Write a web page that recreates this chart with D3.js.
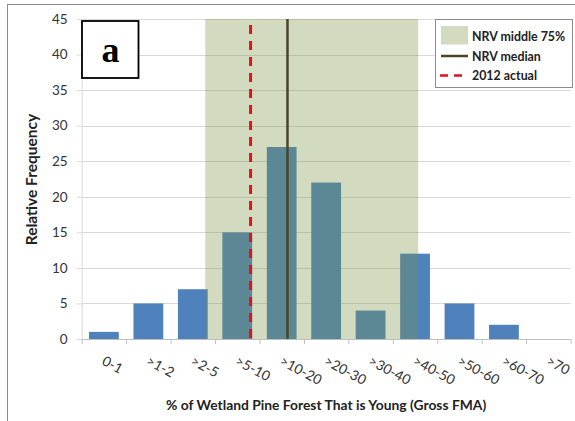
<!DOCTYPE html>
<html>
<head>
<meta charset="utf-8">
<script src="https://cdn.jsdelivr.net/npm/d3@7"></script>
<style>
  html, body { margin: 0; padding: 0; background: #fff; }
  svg { display: block; font-family: Lato, "Open Sans", "Liberation Sans", sans-serif; }
</style>
</head>
<body>
<svg id="chart" width="575" height="421"></svg>
<script>
// ---- data ----
const categories = ["0-1", ">1-2", ">2-5", ">5-10", ">10-20", ">20-30", ">30-40", ">40-50", ">50-60", ">60-70", ">70"];
const frequencies = [1, 5, 7, 15, 27, 22, 4, 12, 5, 2, 0];
// reference positions expressed in category-index units along the x axis
const nrvMiddle75 = [2.78, 7.57];
const nrvMedian = 4.63;
const actual2012 = 3.80;
const yTicks = [0, 5, 10, 15, 20, 25, 30, 35, 40, 45];
const legendLabels = ["NRV middle 75%", "NRV median", "2012 actual"];
const panelLabel = "a";
const xTitle = "% of Wetland Pine Forest That is Young (Gross FMA)";
const yTitle = "Relative Frequency";

// ---- layout ----
const svg = d3.select("#chart");
const plot = { left: 81.7, right: 570.6, top: 19, bottom: 339 };

const x = d3.scaleBand().domain(categories).range([plot.left, plot.right]).paddingInner(0.33).paddingOuter(0.165);
const xPos = d3.scaleLinear().domain([0, categories.length]).range([plot.left, plot.right]);
const y = d3.scaleLinear().domain([0, 45]).range([plot.bottom, plot.top]);

// outer frame (only top/left visible)
svg.append("rect").attr("x", 7.5).attr("y", 4.5).attr("width", 700).attr("height", 600)
  .attr("fill", "none").attr("stroke", "#8c8c8c").attr("stroke-width", 1);

// gridlines
svg.append("g").selectAll("line").data(yTicks.filter(d => d > 0)).join("line")
  .attr("x1", plot.left).attr("x2", plot.right)
  .attr("y1", d => Math.round(y(d)) + 0.5).attr("y2", d => Math.round(y(d)) + 0.5)
  .attr("stroke", "#d9d9d9").attr("stroke-width", 1);

// y axis
const yAxis = d3.axisLeft(y).tickValues(yTicks).tickSize(5).tickPadding(9);
const gy = svg.append("g").attr("transform", `translate(${plot.left},0)`).call(yAxis);
gy.select(".domain").attr("stroke", "#d9d9d9");
gy.selectAll(".tick line").attr("stroke", "#d9d9d9");
gy.selectAll(".tick text").attr("font-size", 13.5).attr("fill", "#333").attr("font-family", "Lato, 'Open Sans', sans-serif");

// bars
svg.append("g").selectAll("rect").data(categories).join("rect")
  .attr("x", d => x(d))
  .attr("width", x.bandwidth())
  .attr("y", (d, i) => y(frequencies[i]))
  .attr("height", (d, i) => y(0) - y(frequencies[i]))
  .attr("fill", "#4f81bd");

// x axis
const xAxisScale = d3.scaleLinear().domain([0, categories.length]).range([plot.left, plot.right]);
const gx = svg.append("g").attr("transform", `translate(0,${plot.bottom})`)
  .call(d3.axisBottom(xAxisScale).tickValues(d3.range(0, categories.length + 1)).tickSize(5).tickFormat(""));
gx.select(".domain").attr("stroke", "#bfbfbf").attr("d", `M${plot.left},0.5H${plot.right}`);
gx.selectAll(".tick line").attr("stroke", "#bfbfbf");

// x tick labels (rotated)
svg.append("g").selectAll("text").data(categories).join("text")
  .attr("transform", d => `translate(${x(d) + x.bandwidth() / 2 - 3},${364}) rotate(28)`)
  .attr("font-size", 13.8).attr("fill", "#333")
  .text(d => d);

// NRV middle 75% band (translucent overlay)
svg.append("rect")
  .attr("x", xPos(nrvMiddle75[0]))
  .attr("width", xPos(nrvMiddle75[1]) - xPos(nrvMiddle75[0]))
  .attr("y", y(45)).attr("height", y(0) - y(45))
  .attr("fill", "rgb(121,148,67)").attr("fill-opacity", 0.335);

// NRV median line
svg.append("line")
  .attr("x1", xPos(nrvMedian)).attr("x2", xPos(nrvMedian))
  .attr("y1", y(45)).attr("y2", y(0))
  .attr("stroke", "#4a4529").attr("stroke-width", 2.5);

// 2012 actual line
svg.append("line")
  .attr("x1", xPos(actual2012)).attr("x2", xPos(actual2012))
  .attr("y1", y(45)).attr("y2", y(0))
  .attr("stroke", "#d9141b").attr("stroke-width", 3)
  .attr("stroke-dasharray", "9,7").attr("stroke-dashoffset", 10);

// panel label box
svg.append("rect").attr("x", 82).attr("y", 21).attr("width", 56.5).attr("height", 57)
  .attr("fill", "#fff").attr("stroke", "#000").attr("stroke-width", 1.8);
svg.append("text").attr("x", 110.5).attr("y", 62).attr("text-anchor", "middle")
  .attr("font-family", "'Liberation Serif', 'DejaVu Serif', serif").attr("font-weight", "bold")
  .attr("font-size", 36).attr("fill", "#000").text(panelLabel);

// legend
const lg = svg.append("g");
lg.append("rect").attr("x", 435.5).attr("y", 19.5).attr("width", 137).attr("height", 68)
  .attr("fill", "#fff").attr("stroke", "#8c8c8c").attr("stroke-width", 1);
lg.append("rect").attr("x", 441).attr("y", 26).attr("width", 27).attr("height", 18.5)
  .attr("fill", "rgb(121,148,67)").attr("fill-opacity", 0.335);
lg.append("line").attr("x1", 441).attr("x2", 468).attr("y1", 56).attr("y2", 56)
  .attr("stroke", "#4a4529").attr("stroke-width", 2.5);
lg.append("line").attr("x1", 440).attr("x2", 468).attr("y1", 75.5).attr("y2", 75.5)
  .attr("stroke", "#d9141b").attr("stroke-width", 2.5).attr("stroke-dasharray", "8,6");
lg.selectAll("text.lab").data(legendLabels).join("text").attr("class", "lab")
  .attr("x", 472).attr("y", (d, i) => 41 + i * 19.5)
  .attr("font-size", 12.4).attr("font-weight", "bold").attr("fill", "#222")
  .text(d => d);

// axis titles
svg.append("text").attr("x", (plot.left + plot.right) / 2).attr("y", 410)
  .attr("text-anchor", "middle").attr("font-size", 13.85).attr("font-weight", "bold").attr("fill", "#222")
  .text(xTitle);
svg.append("text").attr("transform", `translate(37,179.5) rotate(-90)`)
  .attr("text-anchor", "middle").attr("font-size", 15.5).attr("font-weight", "bold").attr("fill", "#222")
  .text(yTitle);
</script>
</body>
</html>
